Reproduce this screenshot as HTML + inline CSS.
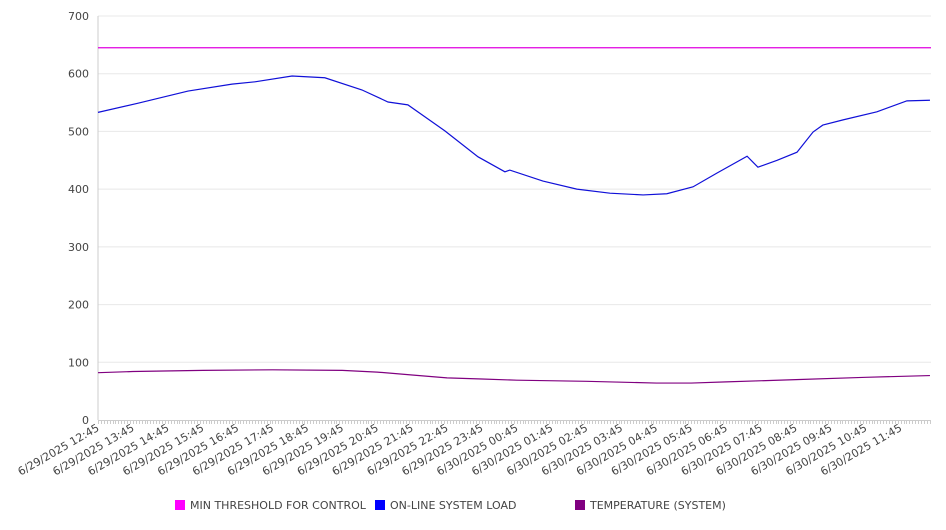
<!DOCTYPE html>
<html><head><meta charset="utf-8"><style>
body{margin:0;background:#fff;font-family:"DejaVu Sans","Liberation Sans",sans-serif;}
svg text{font-family:"DejaVu Sans","Liberation Sans",sans-serif;fill:#444;}
</style></head><body>
<svg id="chart" width="946" height="526" xmlns="http://www.w3.org/2000/svg"></svg>
<script>
const yTicks=[0,100,200,300,400,500,600,700];
const xLabels=["6/29/2025 12:45","6/29/2025 13:45","6/29/2025 14:45","6/29/2025 15:45","6/29/2025 16:45","6/29/2025 17:45","6/29/2025 18:45","6/29/2025 19:45","6/29/2025 20:45","6/29/2025 21:45","6/29/2025 22:45","6/29/2025 23:45","6/30/2025 00:45","6/30/2025 01:45","6/30/2025 02:45","6/30/2025 03:45","6/30/2025 04:45","6/30/2025 05:45","6/30/2025 06:45","6/30/2025 07:45","6/30/2025 08:45","6/30/2025 09:45","6/30/2025 10:45","6/30/2025 11:45"];
const loadHours=[0,1.15,2.58,3.84,4.5,5.56,6.5,7.56,8.31,8.88,9.94,10.89,11.66,11.8,12.75,13.72,14.67,15.62,16.3,17.05,17.74,18.6,18.91,19.46,20.03,20.49,20.77,21.35,22.32,23.18,23.84];
const loadValues=[533,549,570,582,586,596,593,572,551,546,501,456,430,433,414,400,393,390,392,404,428,457,438,450,464,499,511,520,534,553,554];
const tempHours=[0,1,3,5,7,8,9,10,11,12,14,16,17,18,20,22,23.84];
const tempValues=[82,84,86,87,86,83,78,73,71,69,67,64,64,66,70,74,77];
const thresholdValue=645;
const X0=98,X1=931,Y0=420,Y1=16,HOURS=23.87;
const xs=h=>X0+h/HOURS*(X1-X0);
const ys=v=>Y0-v/700*(Y0-Y1);
const svg=document.getElementById('chart');
const NS="http://www.w3.org/2000/svg";
function mk(t,a){const e=document.createElementNS(NS,t);for(const k in a)e.setAttribute(k,a[k]);svg.appendChild(e);return e;}
yTicks.forEach(v=>{
  if(v>0){const g=mk('line',{x1:X0,x2:X1,y1:ys(v),y2:ys(v),stroke:'#e8e8e8'});
  
  }
  const t=mk('text',{x:89,y:ys(v)+4,'text-anchor':'end','font-size':11});
  t.textContent=v;
  
  
});
const ax=mk('line',{x1:X0,x2:X0,y1:Y1,y2:Y0,stroke:'#ccc'});


const bx=mk('line',{x1:X0,x2:X1,y1:Y0+.5,y2:Y0+.5,stroke:'#ccc'});


for(let m=0;m<=HOURS*60;m+=5){const x=Math.round(xs(m/60))+.5;const tk=mk('line',{x1:x,x2:x,y1:Y0,y2:Y0+4,stroke:'#ccc'});

}
xLabels.forEach((l,i)=>{const x=xs(i);const t=mk('text',{x:0,y:0,'text-anchor':'end','font-size':11,transform:`translate(${x+2},${Y0+10}) rotate(-30)`});
t.textContent=l;

});
const th=mk('line',{x1:X0,x2:X1,y1:ys(thresholdValue),y2:ys(thresholdValue),stroke:'#e000e0','stroke-width':1.2});


const lp=mk('polyline',{points:loadHours.map((h,i)=>xs(h)+','+ys(loadValues[i])).join(' '),fill:'none',stroke:'#1010d8','stroke-width':1.2});


const tp=mk('polyline',{points:tempHours.map((h,i)=>xs(h)+','+ys(tempValues[i])).join(' '),fill:'none',stroke:'#800080','stroke-width':1.2});


[["MIN THRESHOLD FOR CONTROL","#ff00ff",175],["ON-LINE SYSTEM LOAD","#0000ff",375],["TEMPERATURE (SYSTEM)","#800080",575]].forEach(([n,c,x])=>{
  const r=mk('rect',{x:x,y:500,width:10,height:10,fill:c});
  
  
  const t=mk('text',{x:x+15,y:509,'font-size':11});
  t.textContent=n;
  
  
});
</script>
</body></html>
